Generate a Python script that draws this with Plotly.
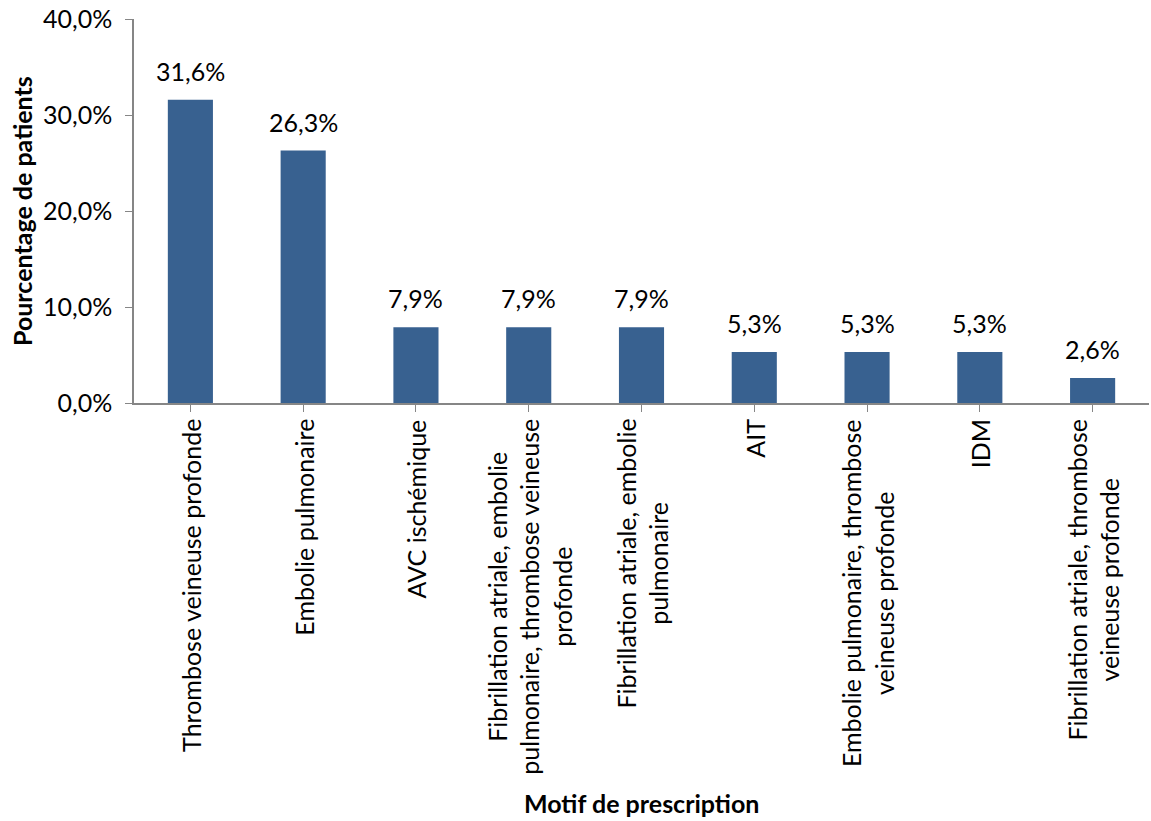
import plotly.graph_objects as go

# Prescription reasons and share of patients (%)
categories = [
    "Thrombose veineuse profonde",
    "Embolie pulmonaire",
    "AVC ischémique",
    "Fibrillation atriale, embolie<br>pulmonaire, thrombose veineuse<br>profonde",
    "Fibrillation atriale, embolie<br>pulmonaire",
    "AIT",
    "Embolie pulmonaire, thrombose<br>veineuse profonde",
    "IDM",
    "Fibrillation atriale, thrombose<br>veineuse profonde",
]
percentages = [31.6, 26.3, 7.9, 7.9, 7.9, 5.3, 5.3, 5.3, 2.6]
y_ticks = [0, 10, 20, 30, 40]
y_tick_labels = [f"{v:.1f}%".replace(".", ",") for v in y_ticks]

FONT = "Lato"
SIZE = 25
AXIS_GREY = "#868686"
BAR_BLUE = "#386190"

x_idx = list(range(len(categories)))

fig = go.Figure(
    go.Bar(
        x=x_idx,
        y=percentages,
        marker=dict(color=BAR_BLUE, line=dict(width=0)),
        width=0.4,
        hoverinfo="skip",
    )
)

# Value labels above each bar
for i, v in enumerate(percentages):
    fig.add_annotation(
        x=i, y=v, xref="x", yref="y",
        text=f"{v:.1f}%".replace(".", ","),
        xanchor="center", yanchor="bottom", yshift=12,
        showarrow=False,
        font=dict(family=FONT, size=SIZE, color="black"),
    )

# Category labels drawn as rotated annotations so multi-line text is centred
for i, label in enumerate(categories):
    fig.add_annotation(
        x=i, y=0, xref="x", yref="paper",
        text=label, textangle=-90,
        xanchor="center", yanchor="top", align="center",
        yshift=-14, showarrow=False,
        font=dict(family=FONT, size=SIZE, color="black"),
    )

# Axis titles
fig.add_annotation(
    x=0.5, y=0, xref="paper", yref="paper",
    text="<b>Motif de prescription</b>",
    xanchor="center", yanchor="middle", yshift=-400,
    showarrow=False,
    font=dict(family=FONT, size=SIZE, color="black"),
)
fig.add_annotation(
    x=0, y=0.5, xref="paper", yref="paper",
    text="<b>Pourcentage de patients</b>", textangle=-90,
    xanchor="center", yanchor="middle", xshift=-112,
    showarrow=False,
    font=dict(family=FONT, size=SIZE, color="black"),
)

fig.update_layout(
    width=1151, height=821,
    margin=dict(l=134, r=2, t=19, b=418),
    paper_bgcolor="white", plot_bgcolor="white",
    showlegend=False,
    font=dict(family=FONT, color="black"),
    xaxis=dict(
        range=[-0.5, len(categories) - 0.5],
        tickmode="array", tickvals=x_idx, ticktext=[""] * len(categories),
        ticks="outside", tickson="boundaries", ticklen=7, tickcolor=AXIS_GREY,
        showline=True, linecolor=AXIS_GREY, linewidth=1.5,
        showgrid=False, zeroline=False,
    ),
    yaxis=dict(
        range=[0, 40], tickmode="array", tickvals=y_ticks, ticktext=y_tick_labels,
        ticks="outside", ticklen=7, tickcolor=AXIS_GREY,
        showline=True, linecolor=AXIS_GREY, linewidth=1.5,
        showgrid=False, zeroline=False,
        ticklabelstandoff=8,
        tickfont=dict(family=FONT, size=SIZE, color="black"),
    ),
)

fig.write_html("out.html")
